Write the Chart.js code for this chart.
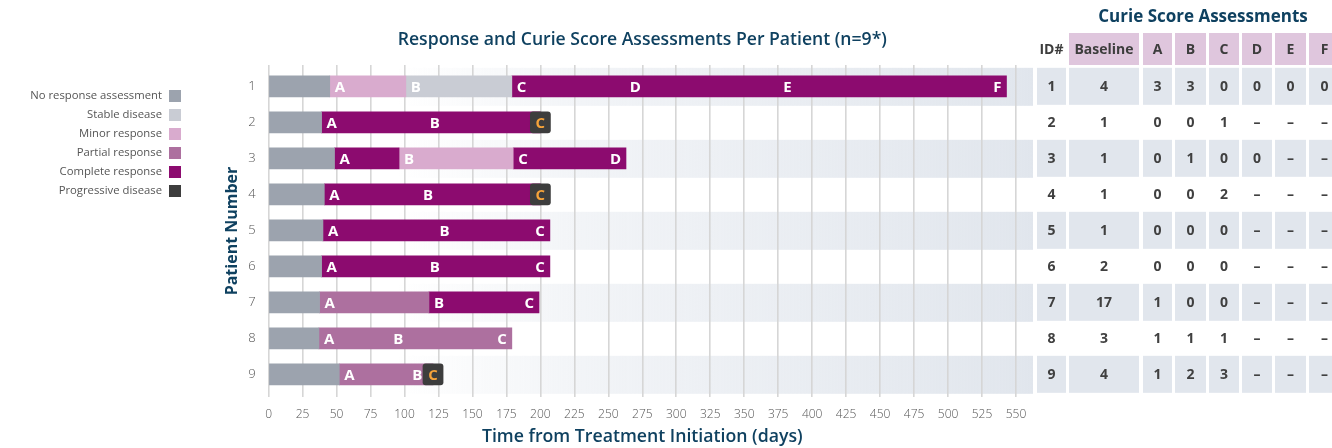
<!DOCTYPE html>
<html>
<head>
<meta charset="utf-8">
<title>Response and Curie Score Assessments Per Patient</title>
<script src="https://cdn.jsdelivr.net/npm/chart.js@4.4.1/dist/chart.umd.min.js"></script>
<style>
  html, body { margin: 0; padding: 0; background: #fff; }
  #wrap { width: 1332px; height: 448px; }
</style>
</head>
<body>
<div id="wrap"><canvas id="chart-area1" width="1332" height="448"></canvas></div>
<script>
// ---- data ----
var patients = [1, 2, 3, 4, 5, 6, 7, 8, 9];
var assessLetters = ['A', 'B', 'C', 'D', 'E', 'F'];

// day of each assessment (A, B, C ...) per patient
var assessDays = [
  [45, 101, 179, 262, 375, 543],
  [39, 115, 200],
  [48.5, 96, 180, 263],
  [41, 110, 200],
  [40, 122, 207],
  [39, 115, 207],
  [37.5, 118, 199],
  [37, 88, 179],
  [52, 102, 121]
];
// response at each assessment
var responses = [
  ['minor', 'stable', 'complete', 'complete', 'complete', 'complete'],
  ['complete', 'complete', 'progressive'],
  ['complete', 'minor', 'complete', 'complete'],
  ['complete', 'complete', 'progressive'],
  ['complete', 'complete', 'complete'],
  ['complete', 'complete', 'complete'],
  ['partial', 'complete', 'complete'],
  ['partial', 'partial', 'partial'],
  ['partial', 'partial', 'progressive']
];

var responseKeys = ['none', 'stable', 'minor', 'partial', 'complete', 'progressive'];
var responseNames = ['No response assessment', 'Stable disease', 'Minor response',
  'Partial response', 'Complete response', 'Progressive disease'];
var responseColors = ['#9ca3ae', '#c9ccd4', '#d9abce', '#ad709f', '#8c0b6f', '#3d3d3d'];

// Curie score table
var tableHeaders = ['ID#', 'Baseline', 'A', 'B', 'C', 'D', 'E', 'F'];
var baselineScores = [4, 1, 1, 1, 1, 2, 17, 3, 4];
var curieScores = [
  [3, 3, 0, 0, 0, 0],
  [0, 0, 1],
  [0, 1, 0, 0],
  [0, 0, 2],
  [0, 0, 0],
  [0, 0, 0],
  [1, 0, 0],
  [1, 1, 1],
  [1, 2, 3]
];

var dayMin = 0, dayMax = 550, dayStep = 25;
var boxHalfDays = 7.4; // half width of progressive-disease marker

function colorOf(key) { return responseColors[responseKeys.indexOf(key)]; }

// build floating segments per patient
var segDatasets = [];
var progData = [];
for (var p = 0; p < patients.length; p++) {
  var days = assessDays[p], resp = responses[p];
  var segs = [];
  var start = 0, cur = 'none';
  var ended = false;
  for (var i = 0; i < days.length; i++) {
    if (resp[i] === 'progressive') {
      segs.push([start, days[i], cur]);
      progData.push({ x: [days[i] - boxHalfDays, days[i] + boxHalfDays], y: patients[p] });
      ended = true;
      break;
    }
    if (resp[i] !== cur) {
      if (days[i] > start) segs.push([start, days[i], cur]);
      start = days[i];
      cur = resp[i];
    }
  }
  if (!ended) segs.push([start, days[days.length - 1], cur]);
  for (var k = 0; k < segs.length; k++) {
    if (!segDatasets[k]) segDatasets[k] = { data: [], backgroundColor: [] };
    segDatasets[k].data.push({ x: [segs[k][0], segs[k][1]], y: patients[p] });
    segDatasets[k].backgroundColor.push(colorOf(segs[k][2]));
  }
}

var datasets = [{
  label: 'Progressive disease',
  data: progData,
  backgroundColor: colorOf('progressive'),
  borderRadius: 3,
  borderSkipped: false,
  order: -1
}];
segDatasets.forEach(function (d, idx) {
  datasets.push({ label: 'segment ' + idx, data: d.data, backgroundColor: d.backgroundColor, borderSkipped: false, order: 0 });
});

var teal = '#0f4160';

// light alternating row bands
var bandsPlugin = {
  id: 'bands',
  beforeDraw: function (chart) {
    var ctx = chart.ctx, ys = chart.scales.y, area = chart.chartArea;
    var right = area.right + 17;
    var grad = ctx.createLinearGradient(area.left + 130, 0, right, 0);
    grad.addColorStop(0, 'rgba(225,230,237,0)');
    grad.addColorStop(0.3, 'rgba(225,230,237,0.45)');
    grad.addColorStop(1, 'rgba(225,230,237,1)');
    ctx.save();
    ctx.fillStyle = grad;
    patients.forEach(function (pt, i) {
      if (i % 2 === 0) {
        var yc = ys.getPixelForValue(pt);
        ctx.fillRect(area.left, yc - 18.5, right - area.left, 38);
      }
    });
    ctx.restore();
  }
};

// assessment letters on the bars
var lettersPlugin = {
  id: 'letters',
  afterDatasetsDraw: function (chart) {
    var ctx = chart.ctx, xs = chart.scales.x, ys = chart.scales.y;
    ctx.save();
    ctx.font = '700 15px "Open Sans"';
    ctx.textBaseline = 'middle';
    patients.forEach(function (pt, p) {
      var yc = ys.getPixelForValue(pt) + 1;
      var days = assessDays[p];
      days.forEach(function (d, i) {
        var x = xs.getPixelForValue(d);
        var last = i === days.length - 1;
        if (responses[p][i] === 'progressive') {
          ctx.fillStyle = '#f5a23a';
          ctx.textAlign = 'center';
          ctx.fillText(assessLetters[i], x, yc);
        } else if (last) {
          ctx.fillStyle = '#fff';
          ctx.textAlign = 'right';
          ctx.fillText(assessLetters[i], x - 5, yc);
        } else {
          ctx.fillStyle = '#fff';
          ctx.textAlign = 'left';
          ctx.fillText(assessLetters[i], x + 5, yc);
        }
      });
    });
    ctx.restore();
  }
};

// legend on the left, text then swatch
var sideLegendPlugin = {
  id: 'sideLegend',
  afterDraw: function (chart) {
    var ctx = chart.ctx;
    ctx.save();
    ctx.font = '400 11.3px "Open Sans"';
    ctx.textAlign = 'right';
    ctx.textBaseline = 'middle';
    responseNames.forEach(function (name, i) {
      var y = 96 + i * 19;
      ctx.fillStyle = '#555';
      ctx.fillText(name, 162, y);
      ctx.fillStyle = responseColors[i];
      ctx.fillRect(169, y - 6, 12, 12);
    });
    ctx.restore();
  }
};

// Curie score table aligned with the patient rows
var tablePlugin = {
  id: 'curieTable',
  afterDraw: function (chart) {
    var ctx = chart.ctx, ys = chart.scales.y;
    var colX = [1037, 1069, 1143, 1175, 1209, 1242, 1275, 1309];
    var colW = [29, 70, 29, 31, 30, 30, 31, 31];
    ctx.save();
    ctx.textAlign = 'center';
    ctx.textBaseline = 'middle';
    ctx.font = '700 17px "Open Sans"';
    ctx.fillStyle = teal;
    ctx.fillText('Curie Score Assessments', 1203, 17);

    ctx.font = '700 14px "Open Sans"';
    tableHeaders.forEach(function (h, c) {
      if (c > 0) {
        ctx.fillStyle = '#dfc6dd';
        ctx.fillRect(colX[c], 33, colW[c], 32);
      }
      ctx.fillStyle = '#3d3d3d';
      ctx.fillText(h, colX[c] + colW[c] / 2, 50);
    });

    patients.forEach(function (pt, r) {
      var yc = ys.getPixelForValue(pt);
      var cells = [String(pt), String(baselineScores[r])];
      for (var k = 0; k < assessLetters.length; k++) {
        cells.push(k < curieScores[r].length ? String(curieScores[r][k]) : '\u2013');
      }
      cells.forEach(function (txt, c) {
        if (r % 2 === 0) {
          ctx.fillStyle = '#e1e6ed';
          ctx.fillRect(colX[c], yc - 18.5, colW[c], 37);
        }
        ctx.fillStyle = '#404040';
        ctx.fillText(txt, colX[c] + colW[c] / 2, yc + 1);
      });
    });
    ctx.restore();
  }
};

var config = {
  type: 'bar',
  data: { datasets: datasets },
  options: {
    indexAxis: 'y',
    responsive: false,
    animation: false,
    grouped: false,
    barThickness: 21,
    layout: { padding: { left: 208.6, right: 316, top: 0, bottom: 0 } },
    plugins: {
      legend: { display: false },
      tooltip: { enabled: false },
      title: {
        display: true,
        fullSize: false,
        text: 'Response and Curie Score Assessments Per Patient (n=9*)',
        color: teal,
        font: { family: 'Open Sans', size: 17.6, weight: '600' },
        padding: { top: 29.5, bottom: 14.4 }
      }
    },
    scales: {
      x: {
        type: 'linear',
        position: 'bottom',
        min: dayMin,
        max: dayMax,
        grid: { color: '#d6d6d6', lineWidth: 1.6, drawTicks: false },
        border: { display: false },
        ticks: {
          stepSize: dayStep,
          autoSkip: false,
          includeBounds: false,
          padding: 10,
          color: '#555',
          font: { family: 'Open Sans', size: 12, weight: '300' }
        },
        title: {
          display: true,
          text: 'Time from Treatment Initiation (days)',
          color: teal,
          font: { family: 'Open Sans', size: 17.7, weight: '600' },
          padding: { top: 0, bottom: 0 }
        },
        afterFit: function (scale) { scale.height = 51; }
      },
      y: {
        type: 'linear',
        reverse: true,
        offset: false,
        min: 0.408,
        max: 9.63,
        grid: { display: false, drawTicks: false, offset: false },
        border: { display: false },
        ticks: {
          stepSize: 1,
          includeBounds: false,
          padding: 13,
          color: '#555',
          font: { family: 'Open Sans', size: 13, weight: '300' }
        },
        title: {
          display: true,
          text: 'Patient Number',
          color: teal,
          font: { family: 'Open Sans', size: 16, weight: '700' },
          padding: { top: 14, bottom: 0 }
        },
        afterFit: function (scale) { scale.width = 60; }
      }
    }
  },
  plugins: [bandsPlugin, lettersPlugin, sideLegendPlugin, tablePlugin]
};

var ctx = document.getElementById('chart-area1');
window.myChart = new Chart(ctx, config);
</script>
</body>
</html>
